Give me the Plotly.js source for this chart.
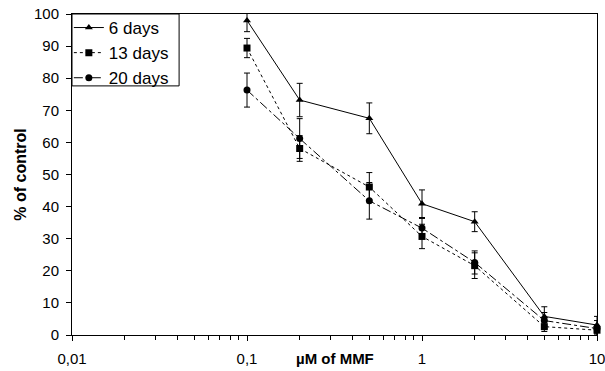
<!DOCTYPE html>
<html>
<head>
<meta charset="utf-8">
<script src="https://cdn.plot.ly/plotly-3.0.1.min.js"></script>
<style>html,body{margin:0;padding:0;background:#fff}#chart{width:605px;height:371px}</style>
</head>
<body>
<div id="chart"></div>
<script>
const concentrations = [0.1, 0.2, 0.5, 1, 2, 5, 10];
const days6 = [98, 73.2, 67.5, 40.9, 35.3, 5.8, 3.1];
const days6Err = [3.5, 5.2, 4.8, 4.3, 3.1, 3.0, 2.7];
const days13 = [89.4, 58.1, 46.1, 30.7, 21.6, 2.6, 1.5];
const days13Err = [3.0, 4.0, 4.5, 3.8, 4.0, 1.5, 1.5];
const days20 = [76.3, 61.2, 41.8, 33.3, 22.6, 4.5, 2.0];
const days20Err = [5.3, 6.2, 5.7, 3.0, 3.6, 2.5, 2.5];
const seriesNames = ["6 days", "13 days", "20 days"];
const xTickVals = [0.01, 0.1, 1, 10];
const xTickText = ["0,01", "0,1", "1", "10"];

function mk(name, y, err, symbol, dash) {
  return {
    x: concentrations, y: y, name: name, type: 'scatter', mode: 'lines+markers',
    line: {color: '#000', width: 1, dash: dash},
    marker: {symbol: symbol, size: 7, color: '#000'},
    error_y: {type: 'data', array: err, visible: true, color: '#000', thickness: 1, width: 3},
    cliponaxis: false
  };
}
const data = [
  mk(seriesNames[0], days6, days6Err, 'triangle-up', 'solid'),
  mk(seriesNames[1], days13, days13Err, 'square', 'dot'),
  mk(seriesNames[2], days20, days20Err, 'circle', 'dashdot')
];
const font = {family: 'Liberation Sans, Arial, sans-serif', color: '#000'};
const layout = {
  width: 605, height: 371,
  margin: {l: 72, r: 8, t: 14, b: 36},
  paper_bgcolor: '#fff', plot_bgcolor: '#fff',
  font: Object.assign({size: 15}, font),
  showlegend: true,
  legend: {x: -0.006, y: 1.0125, xanchor: 'left', yanchor: 'top', bgcolor: 'rgba(0,0,0,0)',
    borderwidth: 0, font: Object.assign({size: 17}, font),
    tracegroupgap: 0, itemwidth: 30},
  shapes: [{
    type: 'rect', xref: 'paper', yref: 'paper', x0: 0, x1: 0.204, y0: 0.776, y1: 1,
    line: {color: '#000', width: 1}, fillcolor: '#fff', layer: 'above'
  }],
  xaxis: {
    type: 'log', range: [-2, 1], tickmode: 'array', tickvals: xTickVals, ticktext: xTickText,
    showline: true, linecolor: '#000', linewidth: 1, mirror: true,
    ticks: 'outside', ticklen: 5, tickcolor: '#000', showgrid: false, zeroline: false,
    ticklabelstandoff: 5, ticklabeloverflow: 'allow',
    minor: {dtick: 'D1', ticks: 'outside', ticklen: 4, tickcolor: '#000', showgrid: false},
    tickfont: Object.assign({size: 15}, font)
  },
  yaxis: {
    range: [0, 100], dtick: 10, showline: true, linecolor: '#000', linewidth: 1, mirror: true,
    ticks: 'outside', ticklen: 5, tickcolor: '#000', showgrid: false, zeroline: false,
    ticklabelstandoff: 4,
    tickfont: Object.assign({size: 15}, font),
    title: {text: '<b>% of control</b>', font: Object.assign({size: 16}, font), standoff: 3}
  },
  annotations: [{
    text: '<b>µM of MMF</b>', xref: 'paper', yref: 'paper', x: 0.5, y: -0.072,
    xanchor: 'center', yanchor: 'middle', showarrow: false, font: Object.assign({size: 15}, font)
  }]
};
Plotly.newPlot('chart', data, layout, {displayModeBar: false, staticPlot: true});
</script>
</body>
</html>
